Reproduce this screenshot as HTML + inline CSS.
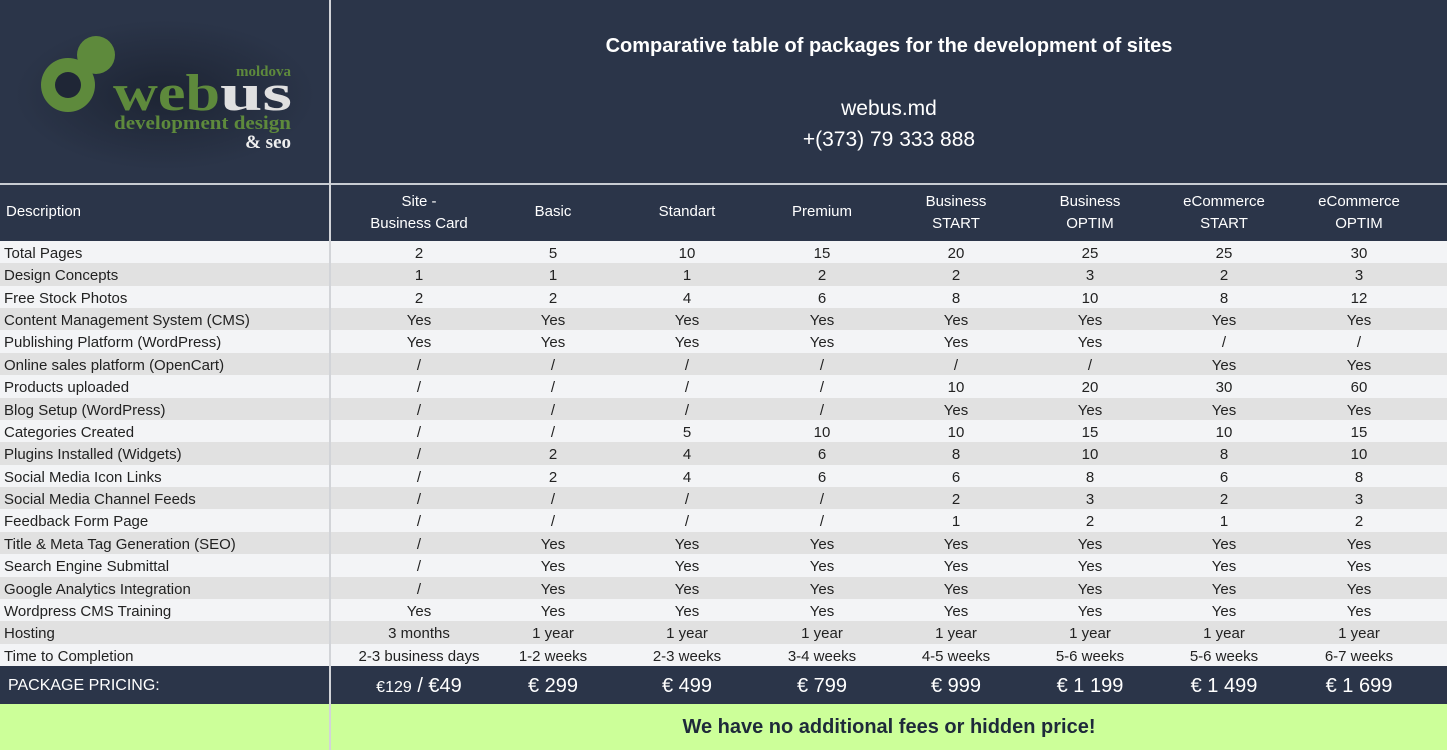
<!DOCTYPE html>
<html><head><meta charset="utf-8">
<style>
*{margin:0;padding:0;box-sizing:border-box}
body{width:1447px;height:750px;overflow:hidden;background:#fff;font-family:"Liberation Sans",sans-serif;position:relative;color:#222}
.top{position:absolute;left:0;top:0;width:1447px;height:183px;background:#2b3549}
.sep{position:absolute;left:0;top:183px;width:1447px;height:2px;background:#c8ccd2}
.hdr{position:absolute;left:0;top:185px;width:1447px;height:56px;background:#2b3549;color:#fff;font-size:15px}
.row{position:absolute;left:0;width:1447px;height:22.4px;font-size:15px;line-height:22.4px;padding-top:2px}
.c{position:absolute;width:134px;text-align:center;white-space:nowrap}
.d{position:absolute;left:4px}
.vl{position:absolute;left:329px;top:0;width:2px;height:750px;background:#d2d4d8}
.price{position:absolute;left:0;top:666px;width:1447px;height:38px;background:#2b3549;color:#fff;font-size:20px;line-height:40px}
.green{position:absolute;left:0;top:704px;width:1447px;height:46px;background:#ccff99}
</style></head><body>
<div class="top">
<svg width="330" height="183" style="position:absolute;left:0;top:0">
<defs><radialGradient id="g" cx="50%" cy="50%" r="50%"><stop offset="0" stop-color="#1d2433"/><stop offset="1" stop-color="#2b3549"/></radialGradient></defs>
<ellipse cx="165" cy="95" rx="150" ry="75" fill="url(#g)"/>
<circle cx="68" cy="85" r="27" fill="#5e8a3c"/>
<circle cx="68" cy="85" r="13" fill="#1f2636"/>
<circle cx="96" cy="55" r="19" fill="#5e8a3c"/>
<text x="113" y="110" font-family="Liberation Serif,serif" font-weight="bold" font-size="52" fill="#5e8a3c" textLength="107" lengthAdjust="spacingAndGlyphs">web</text>
<text x="220" y="110" font-family="Liberation Serif,serif" font-weight="bold" font-size="52" fill="#e0e0e0" textLength="72" lengthAdjust="spacingAndGlyphs">us</text>
<text x="291" y="76" text-anchor="end" font-family="Liberation Serif,serif" font-weight="bold" font-size="15" fill="#5e8a3c">moldova</text>
<text x="114" y="129" font-family="Liberation Serif,serif" font-weight="bold" font-size="19" fill="#5e8a3c" textLength="177" lengthAdjust="spacingAndGlyphs">development design</text>
<text x="291" y="148" text-anchor="end" font-family="Liberation Serif,serif" font-weight="bold" font-size="19" fill="#eee">&amp; seo</text>
</svg>
<div style="position:absolute;left:331px;width:1116px;top:35px;text-align:center;color:#fff;font-weight:bold;font-size:20px">Comparative table of packages for the development of sites</div>
<div style="position:absolute;left:331px;width:1116px;top:93px;text-align:center;color:#fff;font-size:21px;line-height:31px">webus.md<br>+(373) 79 333 888</div>
</div>
<div class="sep"></div>
<div class="hdr">
<div class="d" style="left:6px;top:18px">Description</div>
<div class="c" style="left:352px;top:6px;line-height:22px">Site -<br>Business Card</div>
<div class="c" style="left:486px;top:18px">Basic</div>
<div class="c" style="left:620px;top:18px">Standart</div>
<div class="c" style="left:755px;top:18px">Premium</div>
<div class="c" style="left:889px;top:6px;line-height:22px">Business<br>START</div>
<div class="c" style="left:1023px;top:6px;line-height:22px">Business<br>OPTIM</div>
<div class="c" style="left:1157px;top:6px;line-height:22px">eCommerce<br>START</div>
<div class="c" style="left:1292px;top:6px;line-height:22px">eCommerce<br>OPTIM</div>
</div>
<div id="rows"></div>
<div class="price">
<div class="d" style="left:8px;font-size:16px">PACKAGE PRICING:</div>
<div class="c" style="left:352px"><span style="font-size:16px">€129</span> / €49</div>
<div class="c" style="left:486px">€ 299</div>
<div class="c" style="left:620px">€ 499</div>
<div class="c" style="left:755px">€ 799</div>
<div class="c" style="left:889px">€ 999</div>
<div class="c" style="left:1023px">€ 1 199</div>
<div class="c" style="left:1157px">€ 1 499</div>
<div class="c" style="left:1292px">€ 1 699</div>
</div>
<div class="green"><div style="position:absolute;left:331px;width:1116px;top:12px;text-align:center;font-weight:bold;font-size:20px;color:#1e2a3a">We have no additional fees or hidden price!</div></div>
<div class="vl"></div>
<script>
var data=[
["Total Pages","2","5","10","15","20","25","25","30"],
["Design Concepts","1","1","1","2","2","3","2","3"],
["Free Stock Photos","2","2","4","6","8","10","8","12"],
["Content Management System (CMS)","Yes","Yes","Yes","Yes","Yes","Yes","Yes","Yes"],
["Publishing Platform (WordPress)","Yes","Yes","Yes","Yes","Yes","Yes","/","/"],
["Online sales platform (OpenCart)","/","/","/","/","/","/","Yes","Yes"],
["Products uploaded","/","/","/","/","10","20","30","60"],
["Blog Setup (WordPress)","/","/","/","/","Yes","Yes","Yes","Yes"],
["Categories Created","/","/","5","10","10","15","10","15"],
["Plugins Installed (Widgets)","/","2","4","6","8","10","8","10"],
["Social Media Icon Links","/","2","4","6","6","8","6","8"],
["Social Media Channel Feeds","/","/","/","/","2","3","2","3"],
["Feedback Form Page","/","/","/","/","1","2","1","2"],
["Title & Meta Tag Generation (SEO)","/","Yes","Yes","Yes","Yes","Yes","Yes","Yes"],
["Search Engine Submittal","/","Yes","Yes","Yes","Yes","Yes","Yes","Yes"],
["Google Analytics Integration","/","Yes","Yes","Yes","Yes","Yes","Yes","Yes"],
["Wordpress CMS Training","Yes","Yes","Yes","Yes","Yes","Yes","Yes","Yes"],
["Hosting","3 months","1 year","1 year","1 year","1 year","1 year","1 year","1 year"],
["Time to Completion","2-3 business days","1-2 weeks","2-3 weeks","3-4 weeks","4-5 weeks","5-6 weeks","5-6 weeks","6-7 weeks"]];
var L=[352,486,620,755,889,1023,1157,1292],h="";
data.forEach(function(r,i){
 h+='<div class="row" style="top:'+(241+i*22.37)+'px;background:'+(i%2?'#e1e1e1':'#f3f4f6')+'"><div class="d">'+r[0].replace("&","&amp;")+'</div>';
 for(var j=1;j<9;j++)h+='<div class="c" style="left:'+L[j-1]+'px">'+r[j]+'</div>';
 h+='</div>';});
document.getElementById("rows").innerHTML=h;
</script>
</body></html>
